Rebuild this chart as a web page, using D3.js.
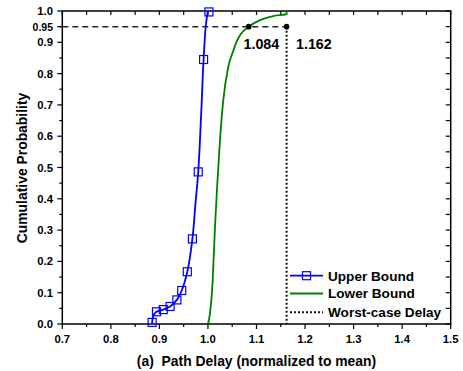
<!DOCTYPE html>
<html><head><meta charset="utf-8">
<script src="https://cdn.jsdelivr.net/npm/d3@7"></script>
<style>body{margin:0;background:#fff}svg{display:block;font-family:"Liberation Sans",Arial,sans-serif;font-weight:bold}</style>
</head><body>
<script>
// ---- data ----
const xTicks = [0.7, 0.8, 0.9, 1.0, 1.1, 1.2, 1.3, 1.4, 1.5];
const xTickLabels = ["0.7","0.8","0.9","1.0","1.1","1.2","1.3","1.4","1.5"];
const yTicks = [0.0, 0.1, 0.2, 0.3, 0.4, 0.5, 0.6, 0.7, 0.8, 0.9, 1.0];
const yTickLabels = ["0.0","0.1","0.2","0.3","0.4","0.5","0.6","0.7","0.8","0.9","1.0"];
const yExtraTick = 0.95, yExtraLabel = "0.95";

const upperLineX = [0.885, 0.886, 0.889, 0.894, 0.908, 0.922, 0.936, 0.946, 0.9575, 0.968, 0.974, 0.980, 0.986, 0.991, 0.996, 1.000];
const upperLineY = [0.0, 0.018, 0.031, 0.039, 0.046, 0.056, 0.077, 0.107, 0.167, 0.272, 0.38, 0.486, 0.67, 0.845, 0.96, 1.0];
const upperMarkX = [0.885, 0.894, 0.908, 0.922, 0.936, 0.946, 0.9575, 0.968, 0.980, 0.991, 1.002];
const upperMarkY = [0.005, 0.039, 0.046, 0.056, 0.077, 0.107, 0.167, 0.272, 0.486, 0.845, 0.997];

const lowerX = [1.0, 1.0042, 1.0098, 1.0145, 1.0193, 1.0248, 1.0316, 1.0419, 1.0522, 1.059, 1.068, 1.084, 1.1072, 1.1346, 1.162, 1.162];
const lowerY = [0.0, 0.034, 0.141, 0.311, 0.450, 0.588, 0.716, 0.822, 0.873, 0.902, 0.927, 0.950, 0.971, 0.984, 0.990, 1.0];

const worstCase = 1.162, p95 = 0.95, lower95 = 1.084;
const annotations = ["1.084", "1.162"];
const legendLabels = ["Upper Bound", "Lower Bound", "Worst-case Delay"];
const xTitle = "(a)  Path Delay (normalized to mean)";
const yTitle = "Cumulative Probability";

// ---- layout ----
const W = 463, H = 371;
const L = 62.3, R = 450.7, T = 11, B = 324;
const x = d3.scaleLinear().domain([0.7, 1.5]).range([L, R]);
const y = d3.scaleLinear().domain([0, 1]).range([B, T]);
const svg = d3.select("body").append("svg").attr("width", W).attr("height", H);

const minorX = d3.range(0.7, 1.5001, 0.05);
const minorY = d3.range(0, 1.0001, 0.05);

// bottom axis (outward ticks)
const gb = svg.append("g");
gb.selectAll("line").data(minorX).join("line")
  .attr("x1", d => x(d)).attr("x2", d => x(d)).attr("y1", B)
  .attr("y2", (d, i) => B + (i % 2 === 0 ? 5 : 3)).attr("stroke", "#000").attr("stroke-width", 1.2);
gb.selectAll("text").data(xTicks).join("text")
  .attr("x", d => x(d)).attr("y", 343).attr("text-anchor", "middle").attr("font-size", 11.3)
  .text((d, i) => xTickLabels[i]);
// top axis (inward ticks)
svg.append("g").selectAll("line").data(minorX).join("line")
  .attr("x1", d => x(d)).attr("x2", d => x(d)).attr("y1", T).attr("y2", T + 4)
  .attr("stroke", "#000").attr("stroke-width", 1.2);
// left axis
const gl = svg.append("g");
gl.selectAll("line").data(minorY).join("line")
  .attr("y1", d => y(d)).attr("y2", d => y(d)).attr("x1", L)
  .attr("x2", (d, i) => L - (i % 2 === 0 ? 5 : 3)).attr("stroke", "#000").attr("stroke-width", 1.2);
gl.append("line").attr("y1", y(yExtraTick)).attr("y2", y(yExtraTick)).attr("x1", L).attr("x2", L - 5)
  .attr("stroke", "#000").attr("stroke-width", 1.2);
gl.selectAll("text.yl").data(yTicks).join("text").attr("class", "yl")
  .attr("x", 53).attr("y", d => y(d) + 4).attr("text-anchor", "end").attr("font-size", 11.3)
  .text((d, i) => yTickLabels[i]);
gl.append("text").attr("x", 53).attr("y", y(yExtraTick) + 4).attr("text-anchor", "end")
  .attr("font-size", 10.5).text(yExtraLabel);
// right axis (inward ticks)
svg.append("g").selectAll("line").data(minorY).join("line")
  .attr("y1", d => y(d)).attr("y2", d => y(d)).attr("x1", R).attr("x2", R - 5)
  .attr("stroke", "#000").attr("stroke-width", 1.2);

// frame
svg.append("rect").attr("x", L).attr("y", T).attr("width", R - L).attr("height", B - T)
  .attr("fill", "none").attr("stroke", "#000").attr("stroke-width", 1.5);

// reference lines
svg.append("line").attr("x1", x(0.7)).attr("x2", x(worstCase)).attr("y1", y(p95)).attr("y2", y(p95))
  .attr("stroke", "#222").attr("stroke-width", 1.5).attr("stroke-dasharray", "6,4");
svg.append("line").attr("x1", x(worstCase)).attr("x2", x(worstCase)).attr("y1", y(p95)).attr("y2", B)
  .attr("stroke", "#111").attr("stroke-width", 2).attr("stroke-dasharray", "2,2");

// curves
const line = d3.line().x(d => x(d[0])).y(d => y(d[1]));
svg.append("path").datum(lowerX.map((v, i) => [v, lowerY[i]])).attr("d", line.curve(d3.curveMonotoneX))
  .attr("fill", "none").attr("stroke", "#008000").attr("stroke-width", 1.8);
svg.append("path").datum(upperLineX.map((v, i) => [v, upperLineY[i]])).attr("d", d3.line().x(d => x(d[0])).y(d => y(d[1])).curve(d3.curveCatmullRom))
  .attr("fill", "none").attr("stroke", "#0000ff").attr("stroke-width", 1.8);
const ms = 8;
svg.append("g").selectAll("rect").data(upperMarkX.map((v, i) => [v, upperMarkY[i]])).join("rect")
  .attr("x", d => x(d[0]) - ms / 2).attr("y", d => y(d[1]) - ms / 2).attr("width", ms).attr("height", ms)
  .attr("fill", "none").attr("stroke", "#0000ff").attr("stroke-width", 1.2);

// dots and annotations
svg.append("g").selectAll("circle").data([lower95, worstCase]).join("circle")
  .attr("cx", d => x(d)).attr("cy", y(p95)).attr("r", 2.8).attr("fill", "#000");
svg.append("text").attr("x", 243.5).attr("y", 49).attr("font-size", 14.3).text(annotations[0]);
svg.append("text").attr("x", 296).attr("y", 49).attr("font-size", 14.3).text(annotations[1]);

// legend
const lg = svg.append("g");
const ly = [275.7, 293.5, 312.3];
lg.append("line").attr("x1", 290).attr("x2", 323).attr("y1", ly[0]).attr("y2", ly[0]).attr("stroke", "#0000ff").attr("stroke-width", 1.8);
lg.append("rect").attr("x", 306.5 - ms / 2).attr("y", ly[0] - ms / 2).attr("width", ms).attr("height", ms)
  .attr("fill", "none").attr("stroke", "#0000ff").attr("stroke-width", 1.2);
lg.append("line").attr("x1", 290).attr("x2", 323).attr("y1", ly[1]).attr("y2", ly[1]).attr("stroke", "#008000").attr("stroke-width", 1.8);
lg.append("line").attr("x1", 290).attr("x2", 323).attr("y1", ly[2]).attr("y2", ly[2]).attr("stroke", "#111").attr("stroke-width", 2).attr("stroke-dasharray", "2,2");
lg.selectAll("text").data(legendLabels).join("text")
  .attr("x", 328).attr("y", (d, i) => ly[i] + 4.8).attr("font-size", 13.6).text(d => d);

// titles
svg.append("text").attr("x", 256.5).attr("y", 366).attr("text-anchor", "middle").attr("font-size", 13.9)
  .style("white-space", "pre").text(xTitle);
svg.append("text").attr("transform", "translate(27,168) rotate(-90)").attr("text-anchor", "middle").attr("font-size", 13.9).text(yTitle);
</script>
</body></html>
